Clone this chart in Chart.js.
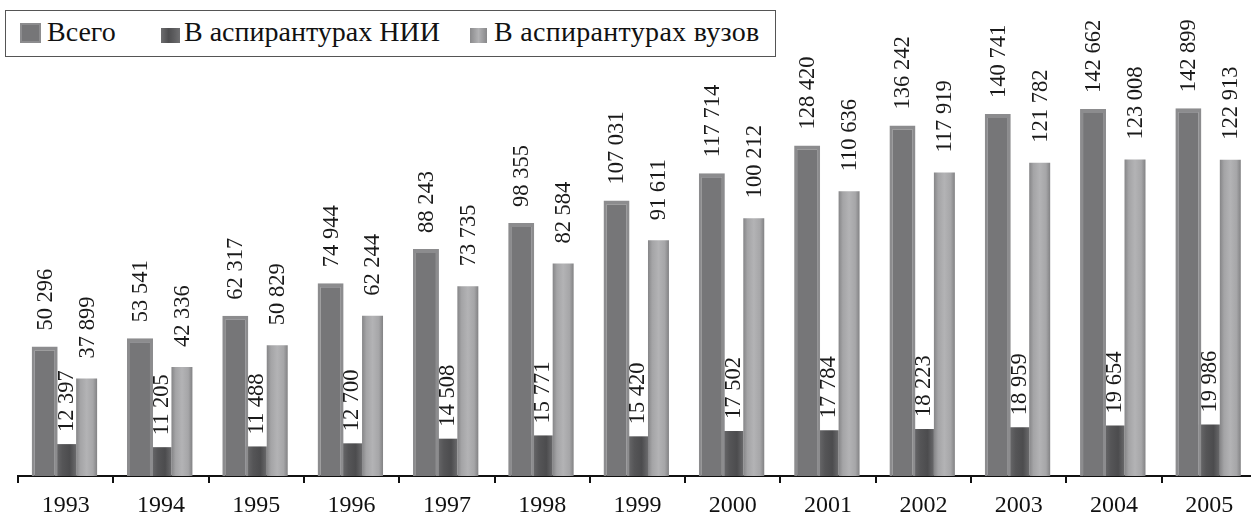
<!DOCTYPE html>
<html lang="ru">
<head>
<meta charset="utf-8">
<title>Численность аспирантов</title>
<script src="https://cdn.jsdelivr.net/npm/chart.js@4.4.1/dist/chart.umd.min.js"></script>
<style>
    html, body { margin: 0; padding: 0; background: #fff; overflow: hidden; }
    body { width: 1251px; height: 516px; position: relative; }
    #wrap { position: absolute; left: 0; top: 0; width: 1261px; height: 516px; }
    #legend {
        position: absolute; left: 5px; top: 10px; width: 771px; height: 47px;
        border: 1.5px solid #555; box-sizing: border-box; background: #fff;
        font-family: 'Liberation Serif', Tinos, 'Times New Roman', serif; font-size: 28px; color: #111;
        z-index: 2;
    }
    #legend .item { position: absolute; top: 5px; white-space: nowrap; line-height: 32px; }
    #legend .sw { position: absolute; }
</style>
</head>
<body>
<div id="wrap"><canvas id="chart"></canvas></div>
<div id="legend">
    <span class="sw" style="left:14px;top:12px;width:21px;height:20px;background:#767678;border:2px solid #8c8c8e;box-sizing:border-box;"></span>
    <div class="item" style="left: 41px;">Всего</div>
    <span class="sw" style="left:155px;top:17px;width:19px;height:15px;background:linear-gradient(90deg,#6e6e70,#4e4e50 40%,#5e5e60 70%,#707072);"></span>
    <div class="item" style="left: 178px;">В аспирантурах НИИ</div>
    <span class="sw" style="left:464px;top:17px;width:17px;height:15px;background:linear-gradient(90deg,#8a8a8c,#b2b2b4 50%,#88888a);"></span>
    <div class="item" style="left: 488px; letter-spacing: 0.3px;">В аспирантурах вузов</div>
</div>
<script>
// ---- Data ----
const years = ['1993', '1994', '1995', '1996', '1997', '1998', '1999',
               '2000', '2001', '2002', '2003', '2004', '2005'];
const totalValues = [50296, 53541, 62317, 74944, 88243, 98355, 107031,
                     117714, 128420, 136242, 140741, 142662, 142899];
const niiValues = [12397, 11205, 11488, 12700, 14508, 15771, 15420,
                   17502, 17784, 18223, 18959, 19654, 19986];
const vuzValues = [37899, 42336, 50829, 62244, 73735, 82584, 91611,
                   100212, 110636, 117919, 121782, 123008, 122913];
const seriesNames = ['Всего', 'В аспирантурах НИИ', 'В аспирантурах вузов'];

const CAT_PCT = 0.66;
const BAR_PCT = [1.24, 1, 1];
const LABEL_GAP = [16, 12, 20];
const FONT = "'Liberation Serif', Tinos, 'Times New Roman', serif";

function fmt(v) {
    return String(v).replace(/\B(?=(\d{3})+(?!\d))/g, ' ');
}

// horizontal gradient across one bar (bar shading like in the print)
function barGradient(context, stops, fallback) {
    const chart = context.chart;
    const xs = chart.scales.x;
    if (!xs || context.type !== 'data') return fallback;
    const cw = xs.getPixelForValue(1) - xs.getPixelForValue(0);
    const slot = cw * CAT_PCT / 3;
    const di = context.datasetIndex;
    const cx = xs.getPixelForValue(context.dataIndex) + (di - 1) * slot;
    const w = slot * BAR_PCT[di];
    if (!isFinite(cx) || !isFinite(w) || w <= 0) return fallback;
    const g = chart.ctx.createLinearGradient(cx - w / 2, 0, cx + w / 2, 0);
    stops.forEach(s => g.addColorStop(s[0], s[1]));
    return g;
}

const valueLabels = {
    id: 'valueLabels',
    afterDatasetsDraw(chart) {
        const ctx = chart.ctx;
        ctx.save();
        ctx.font = '22.5px ' + FONT;
        ctx.fillStyle = '#1a1a1a';
        ctx.textAlign = 'left';
        ctx.textBaseline = 'middle';
        chart.data.datasets.forEach((ds, di) => {
            const meta = chart.getDatasetMeta(di);
            meta.data.forEach((bar, i) => {
                ctx.save();
                ctx.translate(bar.x + 1, bar.y - LABEL_GAP[di]);
                ctx.rotate(-Math.PI / 2);
                ctx.fillText(fmt(ds.data[i]), 0, 0);
                ctx.restore();
            });
        });
        ctx.restore();
    }
};

function drawChart() {
    new Chart(document.getElementById('chart'), {
        type: 'bar',
        data: {
            labels: years,
            datasets: [
                {
                    label: seriesNames[0],
                    data: totalValues,
                    backgroundColor: '#767678',
                    borderColor: '#8c8c8e',
                    borderWidth: { left: 3, right: 3, top: 4, bottom: 0 },
                    borderSkipped: 'bottom',
                    barPercentage: BAR_PCT[0],
                    categoryPercentage: CAT_PCT
                },
                {
                    label: seriesNames[1],
                    data: niiValues,
                    backgroundColor: c => barGradient(c, [[0, '#6c6c6e'], [0.35, '#555557'], [0.7, '#4c4c4e'], [1, '#6a6a6c']], '#58585a'),
                    borderWidth: 0,
                    barPercentage: BAR_PCT[1],
                    categoryPercentage: CAT_PCT
                },
                {
                    label: seriesNames[2],
                    data: vuzValues,
                    backgroundColor: c => barGradient(c, [[0, '#858587'], [0.2, '#a4a4a6'], [0.5, '#b3b3b5'], [0.8, '#a6a6a8'], [1, '#828284']], '#a8a8aa'),
                    borderWidth: 0,
                    barPercentage: BAR_PCT[2],
                    categoryPercentage: CAT_PCT
                }
            ]
        },
        options: {
            responsive: true,
            maintainAspectRatio: false,
            animation: false,
            layout: { padding: { left: 18, right: 4, top: 0, bottom: 0 } },
            plugins: {
                legend: { display: false },
                tooltip: { enabled: false }
            },
            scales: {
                x: {
                    offset: true,
                    grid: {
                        offset: true,
                        drawOnChartArea: false,
                        drawTicks: true,
                        tickLength: 7,
                        color: '#111',
                        lineWidth: 2
                    },
                    border: { display: true, color: '#111', width: 2 },
                    ticks: {
                        color: '#111',
                        padding: 8,
                        font: { family: FONT, size: 24 },
                        maxRotation: 0,
                        autoSkip: false
                    },
                    afterFit(scale) { scale.height = 40; }
                },
                y: {
                    display: false,
                    min: 0,
                    max: 185000
                }
            }
        },
        plugins: [valueLabels]
    });
}

// make sure the serif face is ready before the canvas text is drawn
document.fonts.load('22px "Liberation Serif"').then(drawChart, drawChart);
</script>
</body>
</html>
